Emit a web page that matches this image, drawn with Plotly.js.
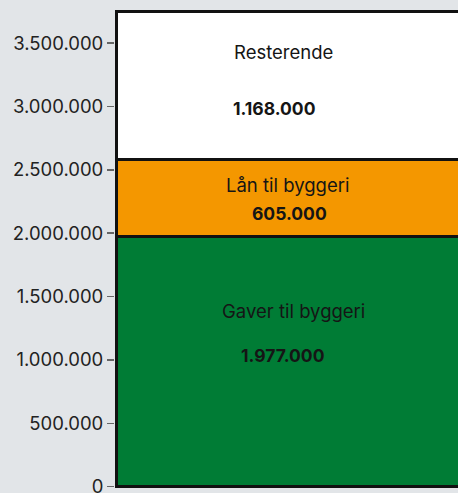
<!DOCTYPE html>
<html>
<head>
<meta charset="utf-8">
<script src="https://cdn.plot.ly/plotly-3.0.1.min.js"></script>
<style>
html,body{margin:0;padding:0;overflow:hidden;background:#e2e5e8;width:458px;height:493px;}
#chart{width:480px;height:500px;}
</style>
</head>
<body>
<div id="chart"></div>
<script>
// Data
const categories = ["Gaver til byggeri", "Lån til byggeri", "Resterende"];
const values = [1977000, 605000, 1168000];
const colors = ["#007c35", "#f49700", "#ffffff"];
const tickValues = [0, 500000, 1000000, 1500000, 2000000, 2500000, 3000000, 3500000];

function fmt(n){ return String(n).replace(/\B(?=(\d{3})+(?!\d))/g, "."); }

const traces = categories.map((c, i) => ({
  type: "bar",
  x: [0],
  y: [values[i]],
  width: [10],
  name: c,
  marker: {color: colors[i], line: {color: "#111111", width: 3}},
  hoverinfo: "none"
}));

// label positions (x in axis units, y as fraction of segment)
let base = 0;
const annotations = [];
const nameX = [-2.57, -2.65, -2.705];
const valX = [-2.72, -2.62, -2.84];
const nameY = [0.70, 0.66, 0.725];
const valY = [0.525, 0.3, 0.345];
categories.forEach((c, i) => {
  annotations.push({x: nameX[i], y: base + values[i]*nameY[i], xref: "x", yref: "y", text: c,
    showarrow: false, font: {family: "Inter, sans-serif", size: 18.5, color: "#151515"}});
  annotations.push({x: valX[i], y: base + values[i]*valY[i], xref: "x", yref: "y", text: "<b>" + fmt(values[i]) + "</b>",
    showarrow: false, font: {family: "Inter, sans-serif", size: 17.5, color: "#151515"}});
  base += values[i];
});

const layout = {
  width: 480, height: 500,
  margin: {l: 115, r: 0, t: 5, b: 7},
  paper_bgcolor: "#e2e5e8",
  plot_bgcolor: "#e2e5e8",
  barmode: "stack",
  showlegend: false,
  separators: ",.",
  xaxis: {range: [-5.021, 0], showgrid: false, zeroline: false, showticklabels: false, showline: false, ticks: ""},
  yaxis: {range: [-50000, 3800000], tickvals: tickValues, tickformat: ",d", showgrid: false, zeroline: false,
    ticks: "outside", ticklen: 7, tickwidth: 1.5, tickcolor: "#666", showline: false,
    tickfont: {family: "Inter, sans-serif", size: 18.5, color: "#222"}},
  annotations: annotations
};

Plotly.newPlot("chart", traces, layout, {staticPlot: true, displayModeBar: false});
</script>
</body>
</html>
